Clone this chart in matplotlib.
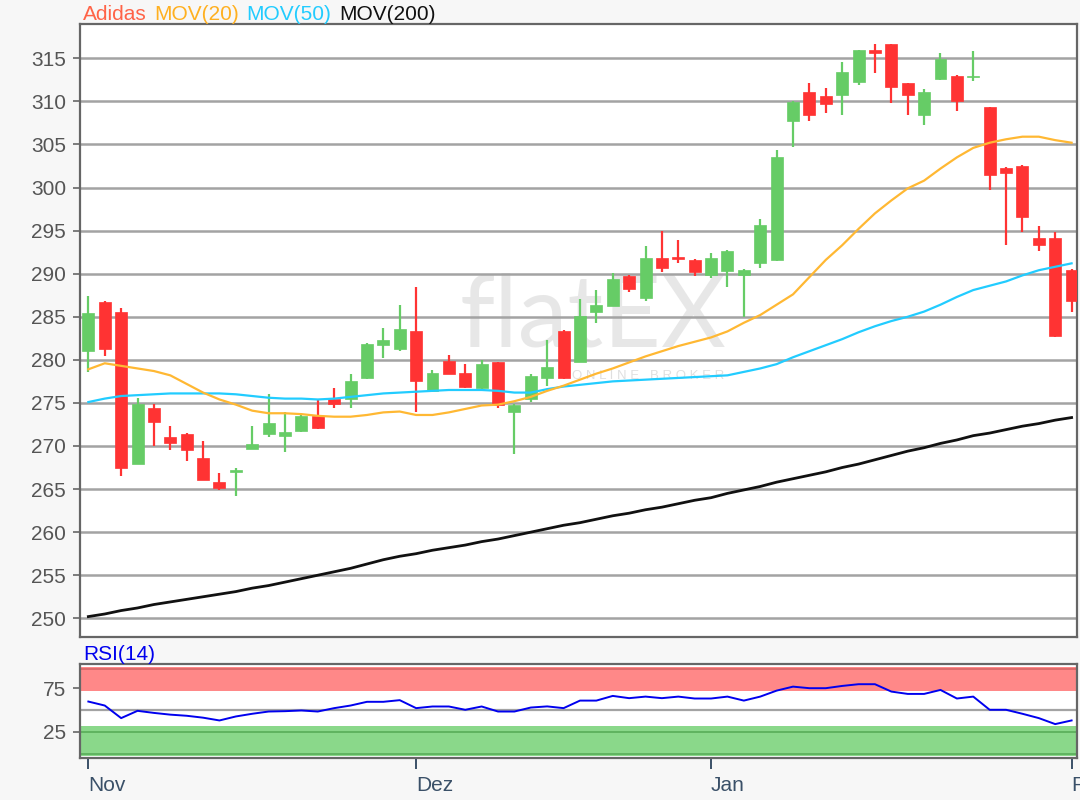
import matplotlib
matplotlib.use("Agg")
import matplotlib.pyplot as plt

# ---------------- data ----------------
opens = [281.0, 286.7, 285.6, 267.9, 274.4, 271.1, 271.4, 268.6, 265.8, 267.0,
         269.6, 271.4, 271.2, 271.7, 273.5, 275.4, 275.5, 277.9, 281.7, 281.2,
         283.3, 276.4, 279.9, 278.5, 276.7, 279.7, 274.0, 275.5, 277.9, 283.4,
         279.8, 285.6, 286.3, 289.7, 287.2, 291.8, 291.9, 291.6, 289.8, 290.3,
         289.9, 291.2, 291.6, 307.7, 311.1, 310.6, 310.7, 312.2, 316.0, 316.7,
         312.1, 308.4, 312.6, 313.0, 312.8, 309.3, 302.3, 302.5, 294.1, 294.1,
         290.4]
highs = [287.4, 286.8, 286.0, 275.6, 274.9, 272.3, 271.5, 270.6, 266.9, 267.5,
         272.3, 276.0, 273.9, 273.6, 275.4, 276.7, 278.3, 281.9, 283.7, 286.4,
         288.4, 278.8, 280.6, 279.5, 280.0, 279.8, 274.9, 278.3, 282.3, 283.5,
         287.1, 288.1, 290.1, 289.9, 293.2, 295.0, 293.9, 291.7, 292.4, 292.7,
         290.5, 296.4, 304.4, 310.1, 312.1, 311.6, 314.6, 316.0, 316.7, 316.7,
         312.1, 311.4, 315.6, 313.1, 315.8, 309.4, 302.4, 302.6, 295.5, 294.8,
         290.5]
lows = [278.6, 280.5, 266.5, 267.9, 270.0, 269.5, 268.3, 266.0, 264.9, 264.2,
        269.6, 271.1, 269.3, 271.6, 272.0, 274.4, 274.4, 277.8, 280.2, 281.0,
        273.9, 276.3, 278.3, 276.7, 276.6, 274.4, 269.1, 275.1, 277.0, 277.8,
        279.7, 284.3, 286.2, 287.9, 286.8, 290.2, 291.2, 289.7, 289.5, 288.4,
        285.0, 290.7, 291.5, 304.7, 307.7, 308.7, 308.4, 311.9, 313.3, 309.8,
        308.4, 307.2, 312.5, 308.9, 312.4, 299.7, 293.3, 294.8, 292.6, 282.7,
        285.6]
closes = [285.4, 281.2, 267.4, 274.9, 272.8, 270.4, 269.5, 266.0, 265.1, 267.2,
          270.2, 272.7, 271.6, 273.5, 272.1, 274.9, 277.6, 281.8, 282.3, 283.6,
          277.5, 278.5, 278.4, 276.8, 279.5, 274.8, 274.8, 278.1, 279.2, 277.9,
          285.1, 286.4, 289.4, 288.2, 291.8, 290.7, 291.7, 290.2, 291.8, 292.6,
          290.4, 295.7, 303.6, 309.9, 308.4, 309.7, 313.4, 316.0, 315.6, 311.7,
          310.7, 311.1, 314.9, 310.0, 313.0, 301.4, 301.7, 296.6, 293.3, 282.8,
          286.8]
mov20 = [278.9, 279.6, 279.3, 279.0, 278.7, 278.2, 277.2, 276.2, 275.4, 274.8,
         274.1, 273.8, 273.8, 273.7, 273.5, 273.4, 273.4, 273.6, 273.9, 274.0,
         273.6, 273.6, 273.9, 274.3, 274.7, 274.8, 275.2, 275.7, 276.4, 277.0,
         277.7, 278.4, 279.0, 279.7, 280.4, 281.0, 281.6, 282.1, 282.6, 283.3,
         284.3, 285.2, 286.4, 287.6, 289.6, 291.6, 293.3, 295.2, 297.0, 298.5,
         299.9, 300.8, 302.2, 303.5, 304.6, 305.2, 305.6, 305.9, 305.9, 305.5,
         305.2]
mov50 = [275.1, 275.5, 275.8, 275.9, 276.0, 276.1, 276.1, 276.1, 276.1, 276.0,
         275.8, 275.6, 275.5, 275.5, 275.4, 275.5, 275.7, 275.9, 276.1, 276.2,
         276.3, 276.4, 276.5, 276.5, 276.5, 276.4, 276.2, 276.2, 276.6, 276.9,
         277.1, 277.3, 277.5, 277.6, 277.7, 277.8, 277.9, 278.0, 278.1, 278.2,
         278.6, 279.0, 279.5, 280.3, 281.0, 281.7, 282.4, 283.2, 283.9, 284.5,
         285.0, 285.6, 286.4, 287.3, 288.1, 288.6, 289.1, 289.8, 290.4, 290.8,
         291.2]
mov200 = [250.2, 250.5, 250.9, 251.2, 251.6, 251.9, 252.2, 252.5, 252.8, 253.1,
          253.5, 253.8, 254.2, 254.6, 255.0, 255.4, 255.8, 256.3, 256.8, 257.2,
          257.5, 257.9, 258.2, 258.5, 258.9, 259.2, 259.6, 260.0, 260.4, 260.8,
          261.1, 261.5, 261.9, 262.2, 262.6, 262.9, 263.3, 263.7, 264.0, 264.5,
          264.9, 265.3, 265.8, 266.2, 266.6, 267.0, 267.5, 267.9, 268.4, 268.9,
          269.4, 269.8, 270.3, 270.7, 271.2, 271.5, 271.9, 272.3, 272.6, 273.0,
          273.3]
rsi14 = [59.6, 55.0, 40.5, 48.9, 46.5, 44.5, 43.2, 41.0, 37.8, 42.4,
         45.5, 48.1, 48.5, 49.3, 48.1, 52.0, 55.0, 59.3, 59.3, 61.2,
         52.0, 53.9, 53.9, 50.1, 53.9, 48.1, 48.1, 52.7, 54.0, 52.0,
         60.7, 60.7, 66.1, 63.5, 65.3, 63.5, 65.3, 63.1, 63.1, 65.3,
         60.7, 65.3, 72.2, 76.8, 75.0, 75.0, 77.6, 79.6, 79.6, 71.1,
         68.4, 68.4, 73.0, 63.1, 65.3, 50.1, 50.1, 45.5, 40.5, 33.6,
         37.8]
month_labels = ["Nov", "Dez", "Jan", "Feb"]
month_pos = [0, 20, 38, 60]
price_ticks = [250, 255, 260, 265, 270, 275, 280, 285, 290, 295, 300, 305, 310, 315]
rsi_ticks = [25, 75]
title_parts = [("Adidas", "#ff6347"), ("MOV(20)", "#ffb020"),
               ("MOV(50)", "#22ccff"), ("MOV(200)", "#111111")]

# ---------------- style ----------------
plt.rcParams['font.family'] = ['Liberation Sans', 'DejaVu Sans']
FS = 15
W, H = 1080, 800
fig = plt.figure(figsize=(W / 100, H / 100), dpi=100)
fig.patch.set_facecolor("#f7f7f7")

def frac_box(l, t, r, b):
    return [l / W, 1 - b / H, (r - l) / W, (b - t) / H]

ax = fig.add_axes(frac_box(80, 24, 1077, 637))
axr = fig.add_axes(frac_box(80, 664, 1077, 758))

GREEN = "#66cc66"
RED = "#ff3333"
n = len(closes)
xs = list(range(n))
for a in (ax, axr):
    a.set_facecolor("white")
    a.set_xlim(-0.51, 60.33)
    for s in a.spines.values():
        s.set_color("#666666")
        s.set_linewidth(1.6)

# main price panel
ax.set_ylim(247.83, 318.98)
ax.set_yticks(price_ticks)
for v in price_ticks:
    ax.axhline(v, color="#a3a3a3", lw=1.8, zorder=0.6)
ax.tick_params(axis="y", length=5, width=1.2, color="#666666", pad=5,
               labelsize=FS, labelcolor="#555555")
ax.tick_params(axis="x", bottom=False, labelbottom=False)

# watermark
ax.text(0.515, 0.52, "flatEX", transform=ax.transAxes, fontsize=72,
        family="Lato", color="#e2e2e2", alpha=0.8,
        ha="center", va="center", zorder=0.4)
ax.text(0.57, 0.425, "O N L I N E   B R O K E R", transform=ax.transAxes, fontsize=9.5,
        color="#d8d8d8", alpha=0.8, ha="center", va="center", zorder=0.4)

body_w = 0.73
for i in xs:
    o, h, l, c = opens[i], highs[i], lows[i], closes[i]
    col = GREEN if c >= o else RED
    ax.vlines(i, l, h, color=col, lw=1.6, zorder=2)
    bot = min(o, c)
    ht = max(abs(c - o), 0.2)
    ax.bar(i, ht, bottom=bot, width=body_w, color=col, edgecolor=col, lw=0.5, zorder=3)

ax.plot(xs, mov200, color="#111111", lw=2.0, zorder=4)
ax.plot(xs, mov50, color="#22ccff", lw=1.6, zorder=4)
ax.plot(xs, mov20, color="#ffb833", lw=1.6, zorder=4)

# RSI panel
axr.set_ylim(-5.5, 102.9)
axr.axhspan(72.2, 100.0, color="#ff8888", lw=0, zorder=0.5)
axr.axhspan(-3.6, 31.7, color="#8ad88a", lw=0, zorder=0.5)
axr.axhline(96.8, color="#dd6a6a", lw=1.4, zorder=0.6)
axr.axhline(25, color="#5fb35f", lw=1.4, zorder=0.6)
axr.axhline(-0.9, color="#5fb35f", lw=1.4, zorder=0.6)
axr.axhline(50, color="#a3a3a3", lw=1.6, zorder=0.6)
axr.plot(xs, rsi14, color="#0000ee", lw=1.4, zorder=3)
axr.set_yticks(rsi_ticks)
axr.tick_params(axis="y", length=5, width=1.2, color="#666666", pad=5,
                labelsize=FS, labelcolor="#555555")
axr.set_xticks(month_pos)
axr.set_xticklabels(month_labels, ha="left")
axr.tick_params(axis="x", length=8, width=1.4, color="#3a5068", pad=5,
                labelsize=FS, labelcolor="#3a5068")
for lab in axr.get_xticklabels():
    lab.set_horizontalalignment("left")

# titles
renderer = fig.canvas.get_renderer()
x = 83
for s, c in title_parts:
    t = fig.text(x / W, 1 - 14 / H, s, color=c, fontsize=FS, ha="left", va="center")
    bb = t.get_window_extent(renderer=renderer)
    x = bb.x1 + 7.5
fig.text(83 / W, 1 - 654 / H, "RSI(14)", color="#0000ee", fontsize=FS,
         ha="left", va="center")

fig.savefig("out.png", dpi=100, facecolor=fig.get_facecolor())
